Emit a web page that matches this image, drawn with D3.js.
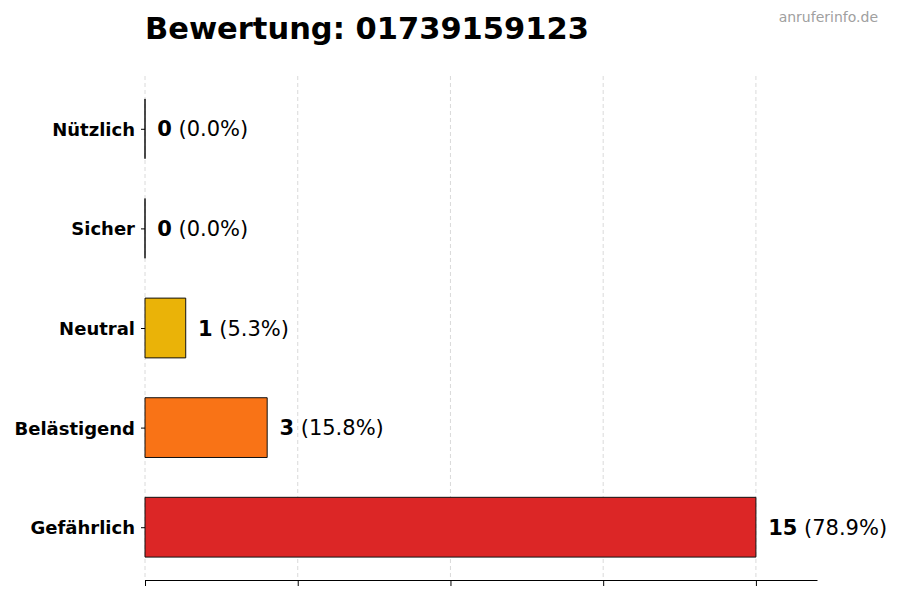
<!DOCTYPE html>
<html><head><meta charset="utf-8">
<script src="https://cdn.jsdelivr.net/npm/d3@7/dist/d3.min.js"></script>
<style>body{margin:0;background:#fff}svg{display:block}text{font-family:"DejaVu Sans",sans-serif}</style>
</head><body>
<svg id="c" width="900" height="600"></svg>
<script>
const categories = ["Gefährlich","Belästigend","Neutral","Sicher","Nützlich"];
const counts = [15, 3, 1, 0, 0];
const percents = ["78.9%","15.8%","5.3%","0.0%","0.0%"];
const colors = ["#dc2626","#f97316","#eab308","#22c55e","#16a34a"];
const xTicks = [0, 3.75, 7.5, 11.25, 15];
const title = "Bewertung: 01739159123";
const watermark = "anruferinfo.de";

(function(){
const svg = d3.select("#c");
const mL = 145, mR = 817, mT = 76, mB = 580;
const x = d3.scaleLinear().domain([0, 16.5]).range([mL, mR]);
const y = d3.scaleLinear().domain([-0.53, 4.53]).range([mB, mT]);
const barH = y(0) - y(0.6);

// grid
svg.append("g").selectAll("line").data(xTicks).join("line")
  .attr("x1", d => x(d)).attr("x2", d => x(d))
  .attr("y1", mT).attr("y2", mB)
  .attr("stroke", "#d0d0d0").attr("stroke-width", 0.8).attr("stroke-dasharray", "4,3");

// bars (as paths so zero-width bars still show their edge)
svg.append("g").selectAll("path").data(categories).join("path")
  .attr("d", (d, i) => {
    const p = d3.path();
    p.rect(x(0), y(i + 0.3), x(counts[i]) - x(0), barH);
    return p.toString();
  })
  .attr("fill", (d, i) => colors[i])
  .attr("stroke", "#111").attr("stroke-width", 1);

// x axis
const xAxis = d3.axisBottom(x).tickValues(xTicks).tickFormat("").tickSize(6).tickSizeOuter(0);
const gx = svg.append("g").attr("transform", `translate(0,${mB})`).call(xAxis);
gx.select(".domain").attr("stroke", "#000").attr("stroke-width", 1);
gx.selectAll(".tick line").attr("stroke", "#000");

// y axis (ticks + labels, no spine)
const yAxis = d3.axisLeft(y).tickValues(d3.range(categories.length)).tickFormat(i => categories[i]).tickSize(4).tickPadding(6);
const gy = svg.append("g").attr("transform", `translate(${mL},0)`).call(yAxis);
gy.select(".domain").remove();
gy.selectAll(".tick line").attr("stroke", "#000");
gy.selectAll(".tick text").attr("font-size", 18).attr("font-weight", "bold").attr("fill", "#000")
  .attr("dy", "0.36em");

// value labels
const lab = svg.append("g").selectAll("text").data(categories).join("text")
  .attr("x", (d, i) => x(counts[i] + 0.3))
  .attr("y", (d, i) => y(i))
  .attr("dy", "0.36em")
  .attr("font-size", 21).attr("fill", "#000");
lab.append("tspan").attr("font-weight", "bold").text((d, i) => counts[i]);
lab.append("tspan").text((d, i) => " (" + percents[i] + ")");

// title
svg.append("text").attr("x", mL).attr("y", 39).attr("font-size", 30.5).attr("font-weight", "bold")
  .attr("fill", "#000").text(title);
svg.append("text").attr("x", 878).attr("y", 22).attr("text-anchor", "end").attr("font-size", 14)
  .attr("fill", "#a0a0a0").text(watermark);
})();
</script>
</body></html>
